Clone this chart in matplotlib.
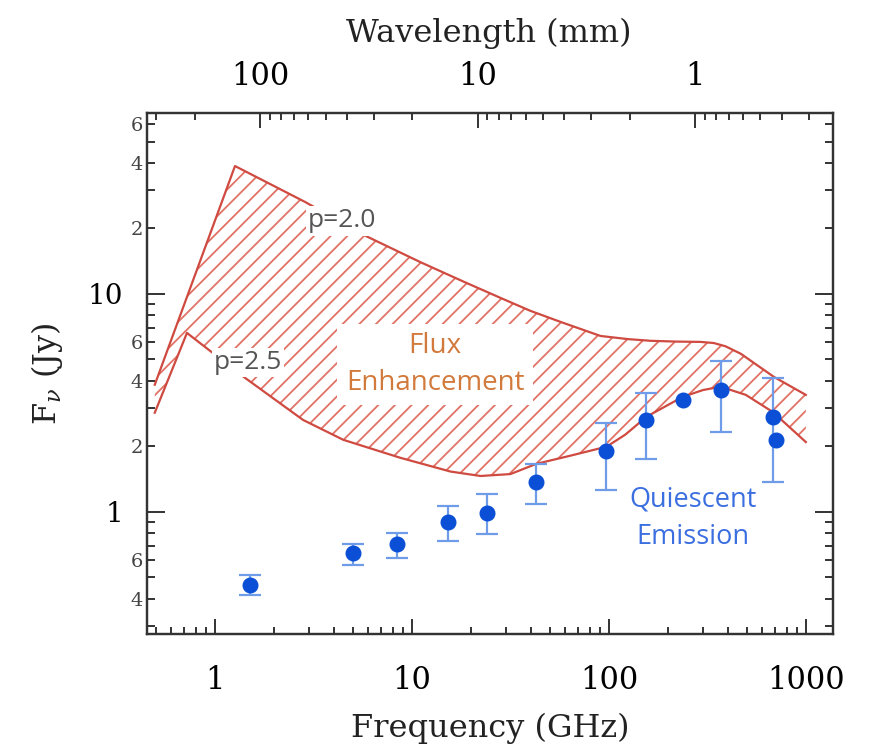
import matplotlib
matplotlib.use('Agg')
import numpy as np
import matplotlib.pyplot as plt
from matplotlib.ticker import FixedLocator, FuncFormatter, NullFormatter

plt.rcParams['font.family'] = 'DejaVu Serif'
plt.rcParams['mathtext.fontset'] = 'dejavuserif'
plt.rcParams['hatch.linewidth'] = 1.3

RED = '#cf4a40'
HATCH_RED = '#e07266'
BLUE = '#0a4fd6'
ERR_BLUE = '#6e9ce8'
ORANGE = '#d27a3c'
TXT_BLUE = '#3b6fe0'
AXIS = '#333333'

# Quiescent emission measurements (GHz, Jy)
freq = [1.5, 5.0, 8.4, 15.3, 23.9, 42.8, 97, 155, 237, 369, 679, 703]
flux = [0.46, 0.648, 0.713, 0.90, 0.99, 1.37, 1.90, 2.64, 3.26, 3.63, 2.73, 2.14]
flux_lo = [0.416, 0.571, 0.615, 0.736, 0.79, 1.09, 1.26, 1.75, 3.26, 2.33, 1.37, 2.14]
flux_hi = [0.514, 0.713, 0.80, 1.065, 1.21, 1.66, 2.56, 3.51, 3.26, 4.93, 4.12, 2.14]

# Upper envelope (p=2.0)
up_freq = [0.495, 1.264, 2.87, 5.93, 11.0, 18.2, 28.1, 39.9, 56.7, 90.6, 125, 163, 220, 292, 340, 390, 467, 687, 998]
up_flux = [3.83, 38.6, 26.4, 18.3, 14.0, 11.4, 9.59, 8.36, 7.44, 6.41, 6.2, 6.09, 6.04, 6.02, 5.95, 5.75, 5.31, 4.16, 3.44]

# Lower envelope (p=2.5, merging into quiescent model)
lo_freq = [0.495, 0.721, 0.89, 1.42, 2.80, 4.48, 8.72, 15.7, 22.3, 31.6, 42.8, 63.8, 97.2, 121, 155, 237, 300, 369, 495, 679, 998]
lo_flux = [2.85, 6.62, 5.71, 4.12, 2.64, 2.14, 1.77, 1.53, 1.46, 1.49, 1.66, 1.81, 1.99, 2.26, 2.73, 3.37, 3.62, 3.75, 3.44, 2.87, 2.09]

# Axis ticks
y_minor = [0.3, 0.4, 0.5, 0.6, 0.7, 0.8, 0.9, 2, 3, 4, 5, 6, 7, 8, 9, 20, 30, 40, 50, 60]
y_minor_labeled = [0.4, 0.6, 2, 4, 6, 20, 40, 60]
x_major = [1, 10, 100, 1000]
wl_major = [100, 10, 1]

fig = plt.figure(figsize=(8.77, 7.51), dpi=100)
ax = fig.add_axes([147 / 877, 1 - 634 / 751, (833 - 147) / 877, (634 - 113) / 751])
ax.set_xscale('log')
ax.set_yscale('log')
ax.set_xlim(0.452, 1371)
ax.set_ylim(0.275, 67.6)

# hatched flux enhancement band
poly_x = np.concatenate([up_freq, lo_freq[::-1]])
poly_y = np.concatenate([up_flux, lo_flux[::-1]])
ax.fill(poly_x, poly_y, facecolor='none', edgecolor=HATCH_RED, hatch='//', linewidth=0, zorder=1)
ax.plot(up_freq, up_flux, color=RED, lw=1.6, zorder=2)
ax.plot(lo_freq, lo_flux, color=RED, lw=1.6, zorder=2)

# labels with white background masking hatch
ax.text(4.42, 21.6, 'p=2.0', family='Open Sans', fontsize=19, color='#555555',
        ha='center', va='center', zorder=3,
        bbox=dict(facecolor='white', edgecolor='none', pad=1.5))
ax.text(1.47, 4.85, 'p=2.5', family='Open Sans', fontsize=19, color='#555555',
        ha='center', va='center', zorder=3,
        bbox=dict(facecolor='white', edgecolor='none', pad=1.5))
ax.text(13.1, 4.75, 'Flux\nEnhancement', family='Open Sans', fontsize=20, color=ORANGE,
        ha='center', va='center', zorder=3, linespacing=1.4,
        bbox=dict(facecolor='white', edgecolor='none', pad=6))
ax.text(266, 0.93, 'Quiescent\nEmission', family='Open Sans', fontsize=19.5, color=TXT_BLUE,
        ha='center', va='center', zorder=3, linespacing=1.45)

# data points (error bars only where an uncertainty is shown)
f = np.array(flux)
lo = np.array(flux_lo)
hi = np.array(flux_hi)
has_err = (hi - lo) > 0
ax.errorbar(np.array(freq)[has_err], f[has_err], yerr=[f[has_err] - lo[has_err], hi[has_err] - f[has_err]],
            fmt='none', ecolor=ERR_BLUE, elinewidth=1.6, capsize=8, capthick=1.6, zorder=4)
ax.plot(freq, flux, 'o', color=BLUE, markersize=10.5, zorder=5)

# axes styling
for s in ax.spines.values():
    s.set_linewidth(1.6)
    s.set_color(AXIS)

ax.xaxis.set_major_locator(FixedLocator(x_major))
ax.xaxis.set_major_formatter(FuncFormatter(lambda v, p: '%g' % v))
ax.xaxis.set_minor_formatter(NullFormatter())
ax.yaxis.set_major_locator(FixedLocator([1, 10]))
ax.yaxis.set_major_formatter(FuncFormatter(lambda v, p: '%g' % v))
ax.yaxis.set_minor_locator(FixedLocator(y_minor))


def minor_fmt(v, p):
    for t in y_minor_labeled:
        if abs(v - t) < 1e-6 * t:
            return ('%g' % t).replace('0.', '')[0]
    return ''


ax.yaxis.set_minor_formatter(FuncFormatter(minor_fmt))

ax.tick_params(axis='both', which='both', direction='in', color=AXIS, width=1.4,
               top=False, right=True)
ax.tick_params(axis='x', which='major', length=11, labelsize=22, pad=22)
ax.tick_params(axis='x', which='minor', length=5)
ax.tick_params(axis='y', which='major', length=13, labelsize=20, pad=17)
ax.tick_params(axis='y', which='minor', length=6, labelsize=14, pad=3, labelcolor='#444444')

# top wavelength axis
ax2 = ax.twiny()
ax2.set_xscale('log')
ax2.set_xlim(331, 0.232)
ax2.xaxis.set_major_locator(FixedLocator(wl_major))
ax2.xaxis.set_major_formatter(FuncFormatter(lambda v, p: '%g' % v))
ax2.xaxis.set_minor_formatter(NullFormatter())
ax2.tick_params(axis='x', which='both', direction='in', color=AXIS, width=1.4)
ax2.tick_params(axis='x', which='major', length=11, labelsize=22, pad=15)
ax2.tick_params(axis='x', which='minor', length=5)
for s in ax2.spines.values():
    s.set_linewidth(1.6)
    s.set_color(AXIS)

fig.text(489 / 877, 1 - 33 / 751, 'Wavelength (mm)', fontsize=23, ha='center', va='center', color='#222222')
fig.text(490 / 877, 1 - 728 / 751, 'Frequency (GHz)', fontsize=23, ha='center', va='center', color='#222222')
fig.text(47 / 877, 1 - 374 / 751, r'F$_\nu$ (Jy)', fontsize=23, ha='center', va='center',
         rotation=90, color='#222222')

fig.savefig('out.png', dpi=100)
